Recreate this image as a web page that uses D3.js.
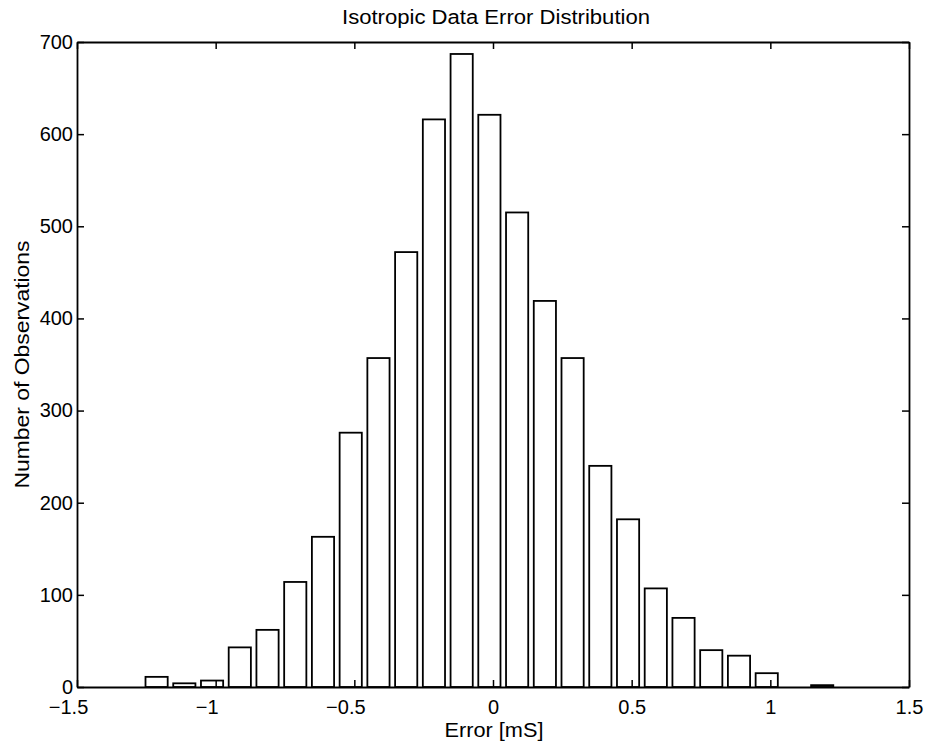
<!DOCTYPE html>
<html>
<head>
<meta charset="utf-8">
<script src="https://cdn.jsdelivr.net/npm/d3@7"></script>
<style>
  html, body { margin: 0; padding: 0; background: #fff; }
  svg { display: block; }
  text { font-family: "Liberation Sans", Arial, Helvetica, sans-serif; fill: #000; }
</style>
</head>
<body>
<script>
// ---- data ----
const binCenters = [-1.213, -1.113, -1.013, -0.913, -0.813, -0.713, -0.613, -0.513,
                    -0.413, -0.313, -0.213, -0.113, -0.013, 0.087, 0.187, 0.287,
                    0.387, 0.487, 0.587, 0.687, 0.787, 0.887, 0.987, 1.087, 1.187];
const counts = [11, 4, 7, 43, 62, 114, 163, 276, 357, 472, 616, 687, 621, 515,
                419, 357, 240, 182, 107, 75, 40, 34, 15, 0, 2];
const xTicks = [-1.5, -1, -0.5, 0, 0.5, 1, 1.5];
const yTicks = [0, 100, 200, 300, 400, 500, 600, 700];
const titleText = "Isotropic Data Error Distribution";
const xLabelText = "Error [mS]";
const yLabelText = "Number of Observations";
const barWidth = 0.08;

// ---- layout ----
const W = 925, H = 749;
const margin = { top: 42, right: 16, bottom: 62, left: 77 };
const iw = W - margin.left - margin.right;
const ih = H - margin.top - margin.bottom;
const FONT = "'Liberation Sans', Arial, Helvetica, sans-serif";

const svg = d3.select("body").append("svg").attr("width", W).attr("height", H);
svg.append("rect").attr("width", W).attr("height", H).attr("fill", "#fff");
const g = svg.append("g").attr("transform", `translate(${margin.left},${margin.top})`);

const x = d3.scaleLinear().domain([-1.5, 1.5]).range([0, iw]);
const y = d3.scaleLinear().domain([0, 700]).range([ih, 0]);

const data = binCenters.map((c, i) => ({ c, v: counts[i] }));

// bars
g.selectAll("rect.bar").data(data.filter(d => d.v > 0)).join("rect")
  .attr("class", "bar")
  .attr("x", d => x(d.c - barWidth / 2))
  .attr("width", d => x(d.c + barWidth / 2) - x(d.c - barWidth / 2))
  .attr("y", d => y(d.v))
  .attr("height", d => y(0) - y(d.v))
  .attr("fill", "#fff")
  .attr("stroke", "#000")
  .attr("stroke-width", 1.8);

const fmt = d => (d < 0 ? "\u2212" : "") + d3.format("")(Math.abs(d));
const tickLen = 7;

// bottom axis
const xAxis = g.append("g").attr("transform", `translate(0,${ih})`)
  .call(d3.axisBottom(x).tickValues(xTicks).tickFormat(fmt).tickSizeInner(-tickLen).tickSizeOuter(0).tickPadding(27));
// top axis
const xAxisTop = g.append("g")
  .call(d3.axisTop(x).tickValues(xTicks).tickFormat("").tickSizeInner(-tickLen).tickSizeOuter(0));
// left axis
const yAxis = g.append("g")
  .call(d3.axisLeft(y).tickValues(yTicks).tickFormat(d3.format("d")).tickSizeInner(-tickLen).tickSizeOuter(0).tickPadding(4));
// right axis
const yAxisRight = g.append("g").attr("transform", `translate(${iw},0)`)
  .call(d3.axisRight(y).tickValues(yTicks).tickFormat("").tickSizeInner(-tickLen).tickSizeOuter(0));

[xAxis, xAxisTop, yAxis, yAxisRight].forEach(a => {
  a.select(".domain").attr("stroke", "#000").attr("stroke-width", 1.8);
  a.selectAll(".tick line").attr("stroke", "#000").attr("stroke-width", 1.5);
  a.selectAll("text").style("font-family", FONT).attr("fill", "#000");
});
xAxis.selectAll("text").style("font-size", "20px").attr("dy", "0")
  .attr("dx", d => d < 0 ? -9 : 0);
yAxis.selectAll("text").style("font-size", "20px");

// title
svg.append("text")
  .attr("x", margin.left + iw / 2 + 3).attr("y", 24)
  .attr("text-anchor", "middle")
  .style("font-size", "20px")
  .attr("textLength", 308).attr("lengthAdjust", "spacingAndGlyphs")
  .text(titleText);

// x label
svg.append("text")
  .attr("x", margin.left + iw / 2 + 1).attr("y", 737)
  .attr("text-anchor", "middle")
  .style("font-size", "20px")
  .attr("textLength", 99).attr("lengthAdjust", "spacingAndGlyphs")
  .text(xLabelText);

// y label
svg.append("text")
  .attr("transform", `translate(29,${margin.top + ih / 2}) rotate(-90)`)
  .attr("text-anchor", "middle")
  .style("font-size", "20px")
  .attr("textLength", 248).attr("lengthAdjust", "spacingAndGlyphs")
  .text(yLabelText);
</script>
</body>
</html>
